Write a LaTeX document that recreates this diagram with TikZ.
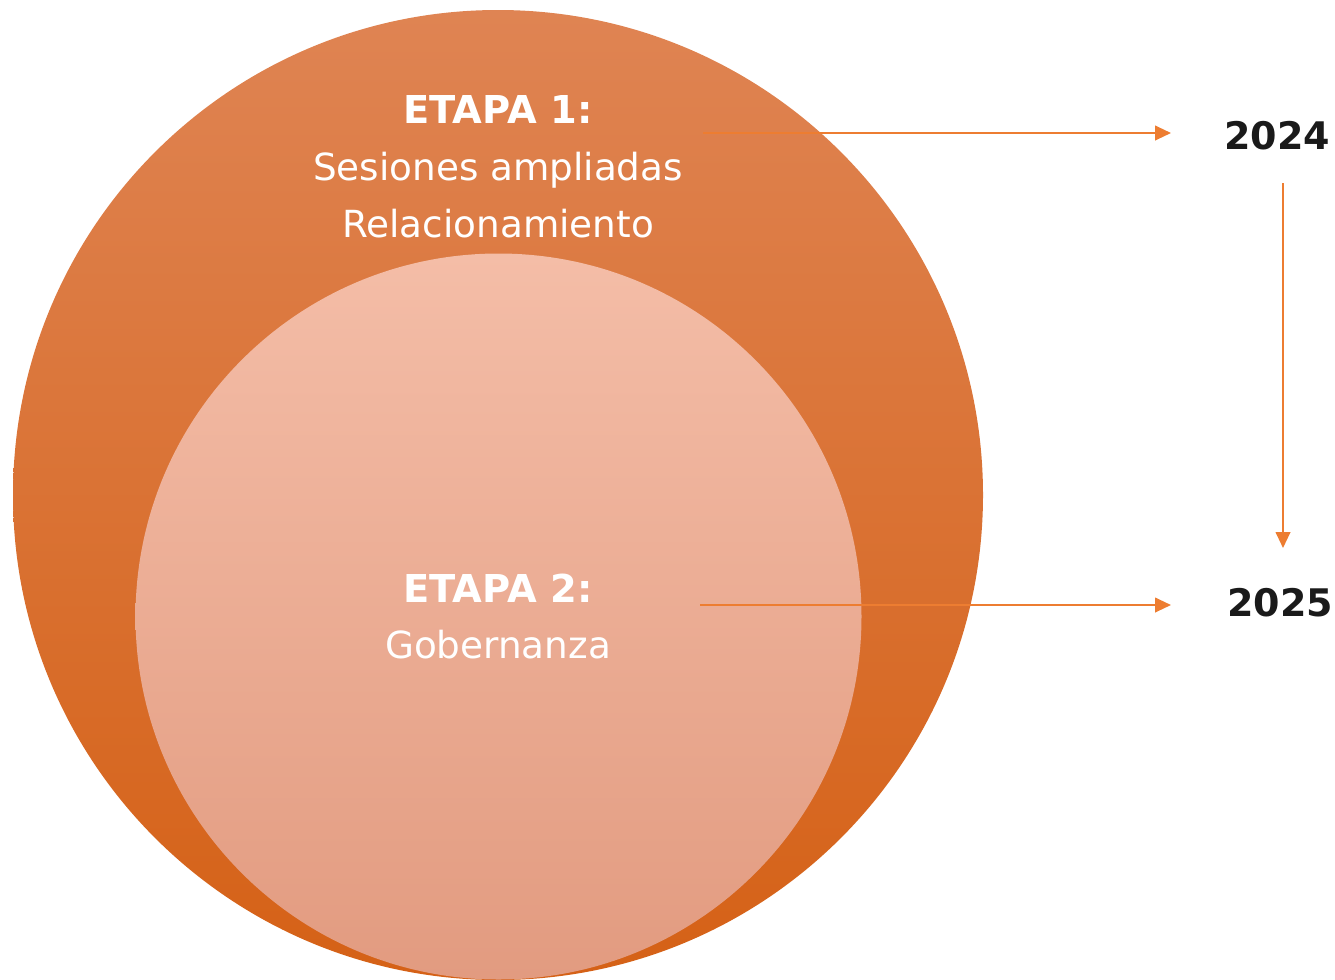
\documentclass[tikz,border=0pt]{standalone}
\usepackage{fontspec}
\setmainfont{DejaVu Sans}
\usetikzlibrary{arrows.meta}
\definecolor{outertop}{RGB}{223,132,83}
\definecolor{outerbot}{RGB}{213,97,22}
\definecolor{innertop}{RGB}{244,189,167}
\definecolor{innermid}{RGB}{248,178,150}
\definecolor{innerbot}{RGB}{226,155,128}
\definecolor{arrowc}{RGB}{237,125,49}
\definecolor{yearc}{RGB}{26,26,26}
\tikzset{
  lbl/.style={text=white, font=\fontsize{28pt}{33pt}\selectfont, anchor=base, inner sep=0pt},
  lblb/.style={lbl, font=\fontsize{28.8pt}{33pt}\selectfont\bfseries},
  year/.style={text=yearc, font=\fontsize{28.5pt}{33pt}\selectfont\bfseries, anchor=base, inner sep=0pt},
  conn/.style={draw=arrowc, line width=1.5pt, -{Triangle[length=12pt,width=11pt]}}
}
\begin{document}
\begin{tikzpicture}[x=0.75pt,y=-0.75pt]
\useasboundingbox (0,0) rectangle (1335,979);
% outer circle
\shade[top color=outertop, bottom color=outerbot] (498,495) circle (485);
% inner circle
\shade[top color=innertop, middle color=innermid, bottom color=innerbot] (498.5,616.5) circle (363);
% texts
\node[lblb] (e1) at (498,123) {ETAPA 1:};
\node[lbl] (s1) at (498,180) {Sesiones ampliadas};
\node[lbl] (r1) at (498,237) {Relacionamiento};
\node[lblb] (e2) at (498,602) {ETAPA 2:};
\node[lbl] (g2) at (498,658) {Gobernanza};
\node[year] (y24) at (1277,149) {2024};
\node[year] (y25) at (1280,616) {2025};
% connectors
\coordinate (a1s) at (703,133);
\coordinate (a1e) at (1171,133);
\coordinate (a2s) at (700,605);
\coordinate (a2e) at (1171,605);
\coordinate (vs) at (1283,183);
\coordinate (ve) at (1283,548);
\draw[conn] (a1s) -- (a1e);
\draw[conn] (a2s) -- (a2e);
\draw[conn] (vs) -- (ve);
\end{tikzpicture}
\end{document}
